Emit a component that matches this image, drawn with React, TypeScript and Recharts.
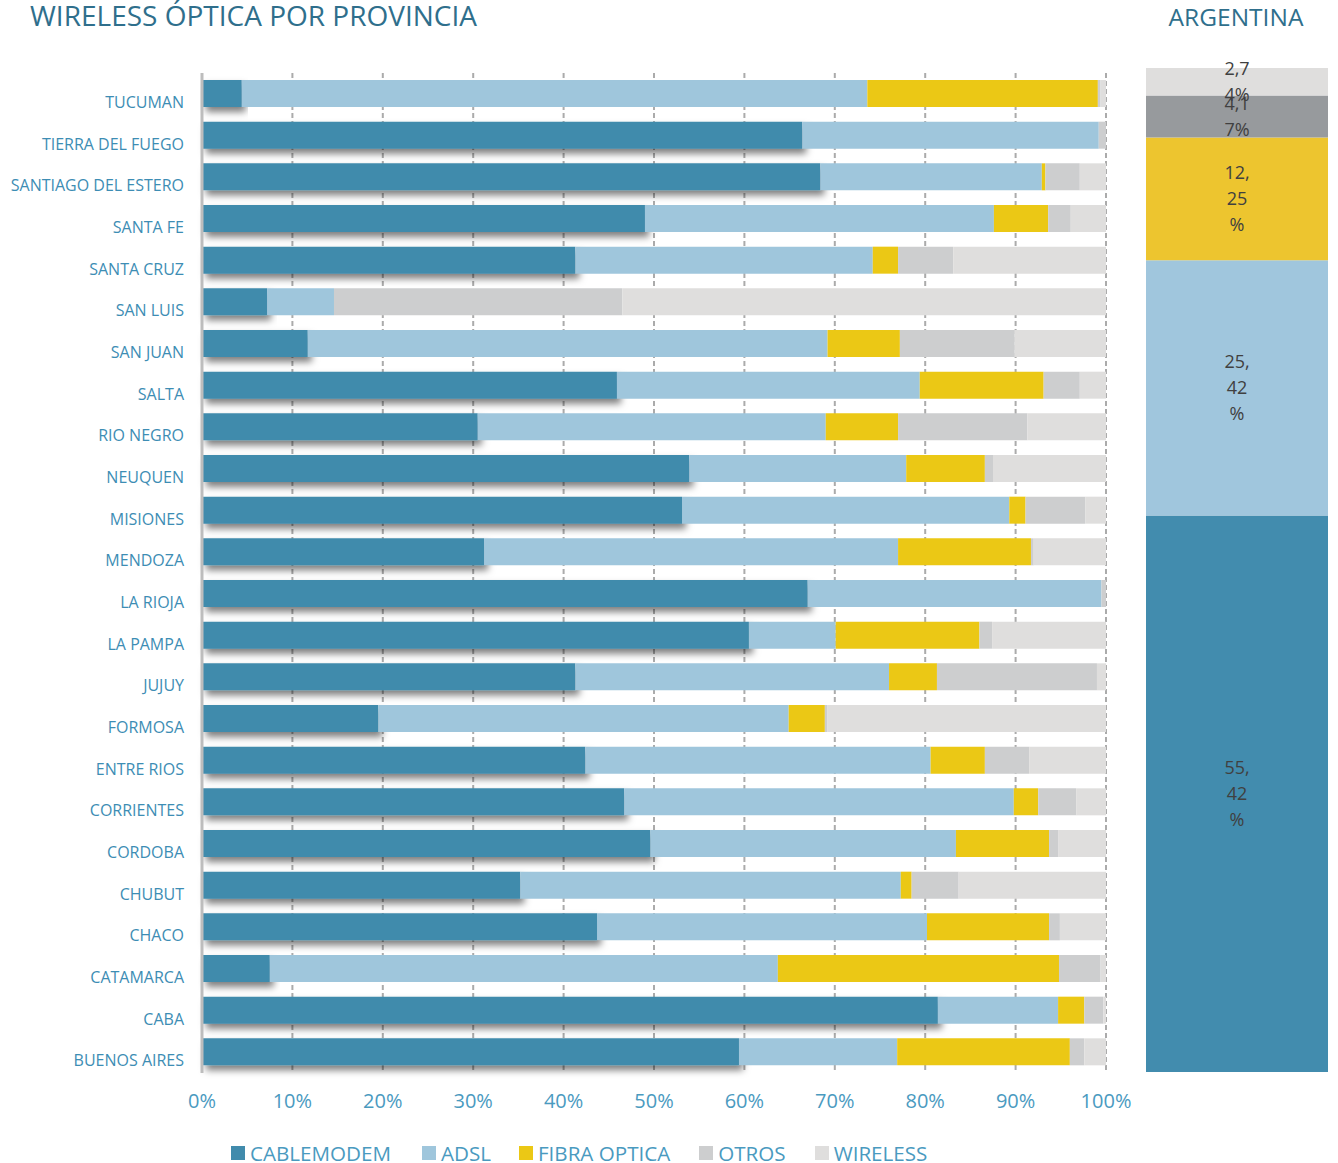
import React from 'react';
import { BarChart, Bar, XAxis, YAxis, CartesianGrid, LabelList, Rectangle } from 'recharts';

const categories = ['TUCUMAN','TIERRA DEL FUEGO','SANTIAGO DEL ESTERO','SANTA FE','SANTA CRUZ','SAN LUIS','SAN JUAN','SALTA','RIO NEGRO','NEUQUEN','MISIONES','MENDOZA','LA RIOJA','LA PAMPA','JUJUY','FORMOSA','ENTRE RIOS','CORRIENTES','CORDOBA','CHUBUT','CHACO','CATAMARCA','CABA','BUENOS AIRES'];
const cablemodem = [4.4,66.4,68.4,49.0,41.3,7.2,11.7,45.9,30.5,53.9,53.1,31.2,67.0,60.5,41.3,19.5,42.4,46.7,49.6,35.2,43.7,7.5,81.4,59.4];
const adsl = [69.2,32.8,24.5,38.6,32.9,7.4,57.5,33.5,38.5,24.0,36.2,45.8,32.5,9.6,34.7,45.4,38.2,43.1,33.8,42.1,36.5,56.2,13.3,17.5];
const fibraOptica = [25.5,0,0.4,6.0,2.8,0,8.0,13.7,8.0,8.7,1.8,14.7,0,15.9,5.3,4.0,6.0,2.7,10.3,1.2,13.5,31.1,2.9,19.1];
const otros = [0.3,0.8,3.8,2.5,6.1,31.9,12.7,4.0,14.3,0.9,6.6,0.3,0.5,1.4,17.7,0.3,4.9,4.2,1.0,5.2,1.2,4.6,2.1,1.6];
const wireless = [0.6,0,2.9,3.9,16.9,53.5,10.1,2.9,8.7,12.5,2.3,8.0,0,12.6,1.0,30.8,8.5,3.3,5.3,16.3,5.1,0.6,0.3,2.4];

const argentinaValues = { cablemodem: 55.42, adsl: 25.42, fibra: 12.25, otros: 4.17, wireless: 2.74 };
const xTicks = [0,10,20,30,40,50,60,70,80,90,100];

const seriesNames = ['CABLEMODEM','ADSL','FIBRA OPTICA','OTROS','WIRELESS'];
const seriesKeys = ['cablemodem','adsl','fibra','otros','wireless'];
const mainColors = ['#418BAC','#9FC6DC','#EBC815','#CDCECF','#DFDEDD'];
const argColors = ['#428CAE','#A0C6DD','#EDC52F','#979A9D','#DFDEDD'];

const data = categories.map((c, i) => ({
  name: c,
  cablemodem: cablemodem[i],
  adsl: adsl[i],
  fibra: fibraOptica[i],
  otros: otros[i],
  wireless: wireless[i],
}));

const argData = [{ name: 'ARGENTINA', ...argentinaValues }];

const FONT = "'Open Sans', sans-serif";

function wrapLabel(v: number): string[] {
  const s = v.toFixed(2).replace('.', ',') + '%';
  const w = (ch: string) => (ch === ',' ? 0.5 : ch === '%' ? 1.5 : 1);
  const lines: string[] = [];
  let cur = '';
  let cw = 0;
  for (const ch of s) {
    if (cw + w(ch) > 3 && cur) {
      lines.push(cur);
      cur = '';
      cw = 0;
    }
    cur += ch;
    cw += w(ch);
  }
  if (cur) lines.push(cur);
  return lines;
}

const ArgLabel = (props: any) => {
  const { x, y, width, height, value } = props;
  const lines = wrapLabel(Number(value));
  const cx = x + width / 2;
  const cy = y + height / 2;
  const lh = 26;
  const start = cy - ((lines.length - 1) * lh) / 2;
  return (
    <text x={cx} textAnchor="middle" fontFamily={FONT} fontSize={18} fill="#404040">
      {lines.map((l, i) => (
        <tspan key={i} x={cx} y={start + i * lh} dy="0.35em">{l}</tspan>
      ))}
    </text>
  );
};

const YTick = (props: any) => {
  const { x, y, payload } = props;
  return (
    <text x={x} y={y} dy={14} textAnchor="end" fontFamily={FONT} fontSize={16} fill="#3D8DB4">
      {payload.value}
    </text>
  );
};

const ShadowBar = (props: any) => <Rectangle {...props} filter="url(#barShadow)" />;

const legendGaps = [31, 28, 29, 29, 0];

export default function App() {
  return (
    <div style={{ position: 'absolute', left: 0, top: 0, width: 1338, height: 1163, background: '#fff', fontFamily: FONT }}>
      <div style={{ position: 'absolute', left: 30, top: 0, fontSize: 28, lineHeight: '30px', color: '#2F6F8C', whiteSpace: 'nowrap' }}>
        WIRELESS ÓPTICA POR PROVINCIA
      </div>
      <div style={{ position: 'absolute', left: 1146, width: 180, textAlign: 'center', top: 2, fontSize: 24.5, lineHeight: '30px', color: '#2F6F8C' }}>
        ARGENTINA
      </div>
      <div style={{ position: 'absolute', left: 0, top: 0 }}>
        <BarChart width={1140} height={1163} data={data} layout="vertical" barSize={27}
          margin={{ top: 73, right: 34, left: 0, bottom: 60 }}>
          <defs>
            <filter id="barShadow" x="-5%" y="-30%" width="120%" height="180%">
              <feDropShadow dx={4} dy={5} stdDeviation={3.5} floodColor="#000" floodOpacity={0.5} />
            </filter>
          </defs>
          <CartesianGrid horizontal={false} vertical stroke="#ABABAB" strokeWidth={2} strokeDasharray="5 3" />
          <XAxis type="number" domain={[0, 100]} ticks={xTicks} tickFormatter={(v) => `${v}%`}
            axisLine={false} tickLine={false} tickMargin={15} height={30}
            tick={{ fill: '#4A9ABF', fontSize: 20, fontFamily: FONT }} />
          <YAxis type="category" dataKey="name" width={202} axisLine={{ stroke: '#BDBDBD', strokeWidth: 3 }}
            tickLine={false} tick={<YTick />} tickMargin={12} interval={0} />
          <Bar dataKey="cablemodem" stackId="a" fill={mainColors[0]} isAnimationActive={false} shape={<ShadowBar />} />
          <Bar dataKey="adsl" stackId="a" fill={mainColors[1]} isAnimationActive={false} />
          <Bar dataKey="fibra" stackId="a" fill={mainColors[2]} isAnimationActive={false} />
          <Bar dataKey="otros" stackId="a" fill={mainColors[3]} isAnimationActive={false} />
          <Bar dataKey="wireless" stackId="a" fill={mainColors[4]} isAnimationActive={false} />
        </BarChart>
      </div>
      <div style={{ position: 'absolute', left: 1146, top: 48 }}>
        <BarChart width={182} height={1024} data={argData} barCategoryGap={0} margin={{ top: 20, right: 0, left: 0, bottom: 0 }}>
          <XAxis dataKey="name" hide />
          <YAxis type="number" domain={[0, 100]} hide />
          {seriesKeys.map((k, i) => (
            <Bar key={k} dataKey={k} stackId="b" fill={argColors[i]} isAnimationActive={false}>
              <LabelList dataKey={k} content={<ArgLabel />} />
            </Bar>
          ))}
        </BarChart>
      </div>
      <div style={{ position: 'absolute', left: 231, top: 1137, display: 'flex', alignItems: 'center', whiteSpace: 'nowrap' }}>
        {seriesNames.map((n, i) => (
          <div key={n} style={{ display: 'flex', alignItems: 'center', marginRight: legendGaps[i] }}>
            <div style={{ width: 14, height: 14, background: mainColors[i], marginRight: 5 }} />
            <span style={{ fontSize: 20.6, color: '#4A9ABF', lineHeight: '32px' }}>{n}</span>
          </div>
        ))}
      </div>
    </div>
  );
}
